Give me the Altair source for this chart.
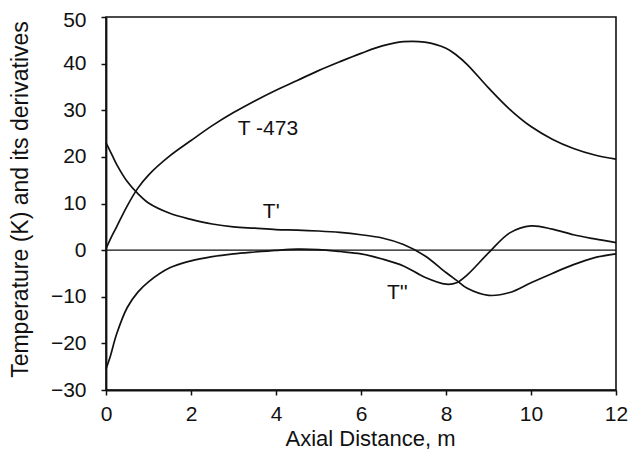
import altair as alt
import pandas as pd

# Axial distance (m)
x_vals = [0, 0.1, 0.25, 0.5, 0.75, 1.0, 1.5, 2.0, 2.5, 3.0, 3.5, 4.0, 4.5, 5.0,
          5.5, 6.0, 6.5, 7.0, 7.5, 8.0, 8.25, 8.5, 9.0, 9.5, 10.0, 10.5, 11.0, 11.5, 12.0]

# T - 473 (K)
t_vals = [0.3, 2.3, 5.0, 9.5, 13.3, 16.1, 20.2, 23.5, 26.7, 29.5, 32.0, 34.3, 36.4, 38.5,
          40.4, 42.2, 43.8, 44.7, 44.6, 43.3, 41.8, 39.8, 34.8, 30.2, 26.5, 23.8, 21.8, 20.4, 19.5]

# T'
tp_vals = [23.0, 21.2, 18.4, 14.7, 12.1, 10.1, 7.9, 6.6, 5.6, 5.0, 4.7, 4.4, 4.3, 4.1,
           3.8, 3.3, 2.6, 1.2, -1.2, -4.8, -6.5, -8.2, -9.7, -9.1, -7.0, -5.0, -3.1, -1.6, -0.8]

# T''
tpp_vals = [-25.5, -22.8, -18.0, -12.3, -9.0, -6.8, -3.8, -2.3, -1.4, -0.8, -0.4, -0.05, 0.2, 0.1,
            -0.3, -0.8, -1.9, -3.4, -5.8, -7.3, -7.0, -5.3, -0.6, 3.7, 5.2, 4.5, 3.3, 2.4, 1.6]

series_names = ["T -473", "T'", "T''"]

# Curve labels
label_text = ["T -473", "T'", "T''"]
label_x = [3.1, 3.69, 6.61]
label_y = [24.7, 6.9, -10.5]

x_ticks = [0, 2, 4, 6, 8, 10, 12]
y_ticks = [-30, -20, -10, 0, 10, 20, 30, 40, 50]

rows = []
for name, vals in zip(series_names, [t_vals, tp_vals, tpp_vals]):
    for xv, yv in zip(x_vals, vals):
        rows.append({"x": xv, "y": yv, "series": name})
df = pd.DataFrame(rows)
labels_df = pd.DataFrame({"text": label_text, "x": label_x, "y": label_y})
zero_df = pd.DataFrame({"y": [0]})

FONT = "Liberation Sans"

xscale = alt.Scale(domain=[0, 12], nice=False, zero=False)
yscale = alt.Scale(domain=[-30, 50], nice=False, zero=False)

xaxis = alt.Axis(
    values=x_ticks, title="Axial Distance, m", grid=False,
    labelFontSize=21, labelFont=FONT, labelColor="#111", labelBaseline="alphabetic",
    labelPadding=25, tickSize=5, labelFlush=False, labelOverlap=False,
    titleFontSize=22, titleFont=FONT, titleFontWeight="normal", titleColor="#111",
    titleX=264, titleY=55, titleBaseline="alphabetic", titleAlign="center",
)
yaxis = alt.Axis(
    values=y_ticks, title="Temperature (K) and its derivatives", grid=False,
    labelFontSize=21, labelFont=FONT, labelColor="#111", labelPadding=15,
    tickSize=5, labelOverlap=False,
    labelOffset={"condition": {"test": "datum.value == 50", "value": 3}, "value": 0},
    titleFontSize=23, titleFont=FONT, titleFontWeight="normal", titleColor="#111",
    titleX=-79, titleY=182, titleAngle=270, titleBaseline="alphabetic", titleAlign="center",
)

lines = alt.Chart(df).mark_line(color="#111", strokeWidth=1.7, interpolate="catmull-rom").encode(
    x=alt.X("x:Q", scale=xscale, axis=xaxis),
    y=alt.Y("y:Q", scale=yscale, axis=yaxis),
    detail="series:N",
)

zero = alt.Chart(zero_df).mark_rule(color="#111", strokeWidth=1.2).encode(
    y=alt.Y("y:Q", scale=yscale),
)

texts = alt.Chart(labels_df).mark_text(
    align="left", baseline="alphabetic", font=FONT, fontSize=21, color="#111"
).encode(
    x=alt.X("x:Q", scale=xscale),
    y=alt.Y("y:Q", scale=yscale),
    text="text:N",
)

chart = alt.layer(zero, lines, texts).properties(
    width=510, height=373,
    autosize=alt.AutoSizeParams(type="none"),
    padding={"left": 98, "top": 9, "right": 12, "bottom": 60},
).configure_view(
    stroke="#111", strokeWidth=1.6
).configure_axis(
    domainColor="#111", domainWidth=1.8, tickColor="#111", tickWidth=1.5
)

chart.save("out.html", embed_options={"renderer": "svg", "actions": False})
